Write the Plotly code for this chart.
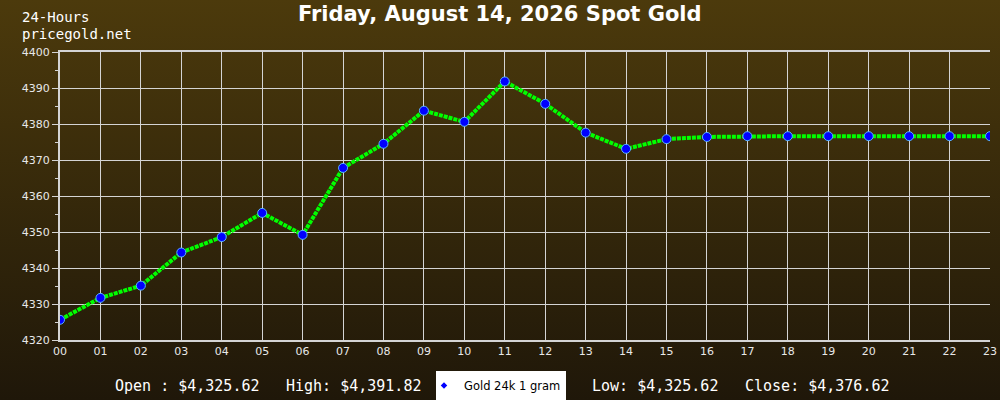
import base64
import plotly.graph_objects as go

hours = ["00", "01", "02", "03", "04", "05", "06", "07", "08", "09", "10", "11",
         "12", "13", "14", "15", "16", "17", "18", "19", "20", "21", "22", "23"]
prices = [4325.62, 4331.7, 4335.1, 4344.3, 4348.6, 4355.3, 4349.2, 4367.8,
          4374.5, 4383.7, 4380.6, 4391.82, 4385.6, 4377.6, 4373.1, 4375.8,
          4376.4, 4376.62, 4376.62, 4376.62, 4376.62, 4376.62, 4376.62, 4376.62]
y_ticks = [4320, 4330, 4340, 4350, 4360, 4370, 4380, 4390, 4400]
title_text = "Friday, August 14, 2026 Spot Gold"
series_name = "Gold 24k 1 gram"

W, H = 1000, 400
ML, MR, MT, MB = 60, 10, 52, 60
PW, PH = W - ML - MR, H - MT - MB


def px_x(px):
    return (px - ML) / PW


def px_y(py):
    return 1 - (py - MT) / PH


open_p, high_p, low_p, close_p = prices[0], max(prices), min(prices), prices[-1]

svg = (
    f'<svg xmlns="http://www.w3.org/2000/svg" width="{W}" height="{H}">'
    '<defs><linearGradient id="g" x1="0" y1="0" x2="0" y2="1">'
    '<stop offset="0" stop-color="#4c3a0c"/>'
    '<stop offset="1" stop-color="#1f1709"/>'
    '</linearGradient></defs>'
    f'<rect width="{W}" height="{H}" fill="url(#g)"/></svg>'
)
bg_src = "data:image/svg+xml;base64," + base64.b64encode(svg.encode()).decode()

fig = go.Figure()
fig.add_trace(go.Scatter(
    x=list(range(len(hours))), y=prices, mode="lines+markers",
    line=dict(color="#00ff00", width=4, dash="4px,1px"),
    marker=dict(color="#0000ff", size=9, line=dict(color="#5ab4ff", width=1)),
    showlegend=False, hoverinfo="skip",
))
fig.add_trace(go.Scatter(
    x=[None], y=[None], mode="markers", name=series_name,
    marker=dict(color="#0000ff", size=5, symbol="diamond"),
    showlegend=True,
))

grid = "#d4d4d4"
mono = dict(family="DejaVu Sans Mono", size=15, color="#ffffff")
mono_small = dict(family="DejaVu Sans Mono", size=14, color="#ffffff")
fig.update_layout(
    width=W, height=H,
    margin=dict(l=ML, r=MR, t=MT, b=MB, autoexpand=False),
    paper_bgcolor="#1f1709",
    plot_bgcolor="rgba(0,0,0,0)",
    images=[dict(source=bg_src, xref="paper", yref="paper",
                 x=-ML / PW, y=1 + MT / PH, sizex=W / PW, sizey=H / PH,
                 xanchor="left", yanchor="top", sizing="stretch",
                 layer="below")],
    font=dict(family="DejaVu Sans", color="#e8e8e8", size=11),
    xaxis=dict(
        range=[0, len(hours) - 1], tickmode="array",
        tickvals=list(range(len(hours))), ticktext=hours,
        showgrid=True, gridcolor=grid, gridwidth=1,
        showline=True, linecolor=grid, linewidth=2, mirror=True,
        ticks="", zeroline=False, tickfont=dict(size=11, color="#e8e8e8"),
    ),
    yaxis=dict(
        range=[y_ticks[0], y_ticks[-1]], tickmode="array", tickvals=y_ticks,
        showgrid=True, gridcolor=grid, gridwidth=1,
        showline=True, linecolor=grid, linewidth=2,
        ticks="outside", ticklen=6, tickcolor=grid,
        minor=dict(dtick=5, tick0=4320, ticks="outside", ticklen=3,
                   tickcolor=grid, showgrid=False),
        zeroline=False, tickfont=dict(size=11, color="#e8e8e8"),
    ),
    showlegend=True,
    legend=dict(
        x=px_x(436), y=px_y(371), xanchor="left", yanchor="top",
        bgcolor="#ffffff", bordercolor="#ffffff", borderwidth=0,
        font=dict(family="DejaVu Sans", size=11.5, color="#000000"),
        itemwidth=30, indentation=-12,
    ),
    annotations=[
        dict(text=f"<b>{title_text}</b>", x=px_x(500), y=px_y(14),
             xref="paper", yref="paper", xanchor="center", yanchor="middle",
             showarrow=False, font=dict(family="DejaVu Sans", size=21, color="#ffffff")),
        dict(text="24-Hours", x=px_x(20), y=px_y(17), xref="paper", yref="paper",
             xanchor="left", yanchor="middle", showarrow=False, font=mono_small),
        dict(text="pricegold.net", x=px_x(20), y=px_y(34), xref="paper", yref="paper",
             xanchor="left", yanchor="middle", showarrow=False, font=mono_small),
        dict(text=f"Open : ${open_p:,.2f}", x=px_x(113), y=px_y(386),
             xref="paper", yref="paper", xanchor="left", yanchor="middle",
             showarrow=False, font=mono),
        dict(text=f"High: ${high_p:,.2f}", x=px_x(284), y=px_y(386),
             xref="paper", yref="paper", xanchor="left", yanchor="middle",
             showarrow=False, font=mono),
        dict(text=f"Low: ${low_p:,.2f}", x=px_x(590), y=px_y(386),
             xref="paper", yref="paper", xanchor="left", yanchor="middle",
             showarrow=False, font=mono),
        dict(text=f"Close: ${close_p:,.2f}", x=px_x(743), y=px_y(386),
             xref="paper", yref="paper", xanchor="left", yanchor="middle",
             showarrow=False, font=mono),
    ],
)

fig.write_html(
    "out.html",
    config={"displayModeBar": False},
    post_script="document.body.style.margin='0';document.body.style.overflow='hidden';",
)
